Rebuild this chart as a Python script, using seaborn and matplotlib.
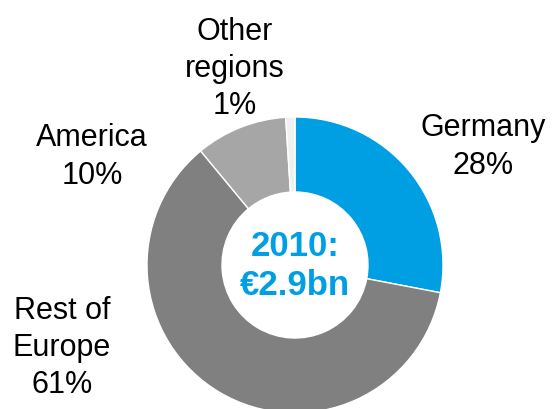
import matplotlib
matplotlib.use("Agg")
import matplotlib.pyplot as plt
import seaborn as sns

# revenue split by region, 2010
regions = ["Germany", "Rest of Europe", "America", "Other regions"]
shares = [28, 61, 10, 1]
label_text = ["Germany\n28%", "Rest of\nEurope\n61%", "America\n10%", "Other\nregions\n1%"]
colors = ["#009FE3", "#808080", "#A6A6A6", "#F0F0F0"]
center_text = "2010:\n€2.9bn"

sns.set_style("white")
plt.rcParams["font.family"] = ["Liberation Sans", "DejaVu Sans"]

fig = plt.figure(figsize=(5.52, 4.10), dpi=100)
ax = fig.add_axes([0, 0, 1, 1])

cx, cy = 295, 410 - 266
ax.pie(shares, colors=colors, startangle=90, counterclock=False,
       center=(cx, cy), radius=148, frame=True,
       wedgeprops=dict(width=75, edgecolor="white", linewidth=1))
ax.set_xlim(0, 552)
ax.set_ylim(0, 410)
ax.set_aspect("equal")
ax.axis("off")

# label positions (block centres)
label_pos = [(483, 410 - 147), (62, 410 - 348), (92, 410 - 157), (235, 410 - 69)]
for txt, (x, y) in zip(label_text, label_pos):
    ax.text(x, y, txt, ha="center", va="center", fontsize=22,
            color="black", linespacing=1.32)

ax.text(cx, cy, center_text, ha="center", va="center", fontsize=25,
        fontweight="bold", color="#009FE3", linespacing=1.2)

fig.savefig("out.png", dpi=100)
